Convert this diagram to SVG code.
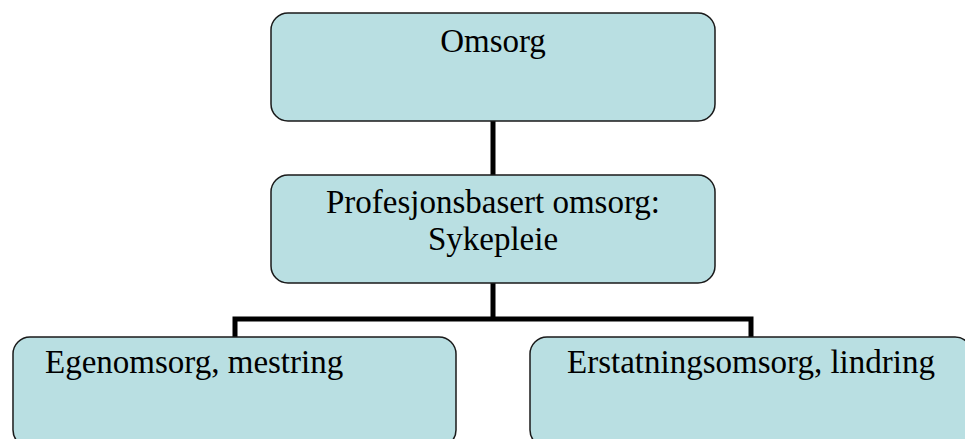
<svg xmlns="http://www.w3.org/2000/svg" width="965" height="439" viewBox="0 0 965 439">
<style>
.box{fill:#b9dfe2;stroke:#1a1a1a;stroke-width:1.5}
.t{font-family:"Liberation Serif","Times New Roman",serif;font-size:33px;fill:#000}
.c{stroke:#000;stroke-width:5;fill:none}
</style>
<rect width="965" height="439" fill="#fff"/>
<g id="connectors">
<line class="c" x1="493" y1="121" x2="493" y2="175"/>
<polyline class="c" points="493,283 493,319"/>
<polyline class="c" points="235,337 235,319 751,319 751,337"/>
</g>
<g id="omsorg">
<rect class="box" x="271" y="13" width="444" height="108" rx="17"/>
<text class="t" x="493" y="52" text-anchor="middle">Omsorg</text>
</g>
<g id="profesjonsbasert">
<rect class="box" x="271" y="175" width="444" height="108" rx="17"/>
<text class="t" x="493" y="213" text-anchor="middle">Profesjonsbasert omsorg:</text>
<text class="t" x="493" y="250" text-anchor="middle">Sykepleie</text>
</g>
<g id="egenomsorg">
<rect class="box" x="13" y="337" width="443" height="110" rx="17"/>
<text class="t" x="45" y="373">Egenomsorg, mestring</text>
</g>
<g id="erstatningsomsorg">
<rect class="box" x="530" y="337" width="442" height="110" rx="17"/>
<text class="t" x="751" y="373" text-anchor="middle">Erstatningsomsorg, lindring</text>
</g>
</svg>
